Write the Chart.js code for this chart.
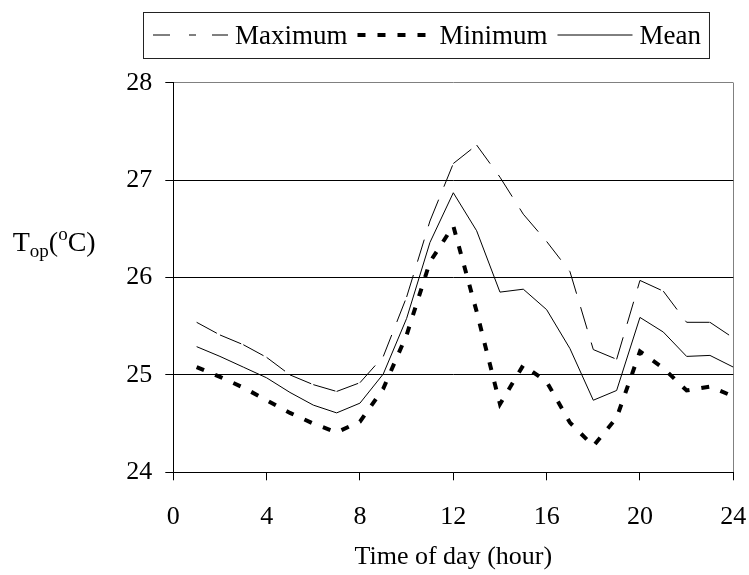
<!DOCTYPE html>
<html><head><meta charset="utf-8">
<script src="https://cdn.jsdelivr.net/npm/chart.js@4.4.1/dist/chart.umd.min.js"></script>
<style>html,body{margin:0;padding:0;background:#fff;}canvas{display:block;}</style>
</head><body>
<canvas id="c" width="749" height="575"></canvas>
<script>
const hours = [1,2,3,4,5,6,7,8,9,10,11,12,13,14,15,16,17,18,19,20,21,22,23,24];
const maxTemp = [25.54,25.41,25.31,25.18,25.00,24.90,24.83,24.92,25.19,25.80,26.58,27.17,27.36,27.03,26.65,26.37,26.06,25.26,25.16,25.97,25.86,25.54,25.54,25.38];
const minTemp = [25.08,24.98,24.87,24.74,24.61,24.50,24.41,24.52,24.86,25.41,26.16,26.53,25.65,24.70,25.10,24.93,24.51,24.27,24.56,25.24,25.07,24.84,24.88,24.78];
const meanTemp = [25.29,25.19,25.08,24.97,24.82,24.69,24.61,24.71,25.01,25.58,26.36,26.87,26.48,25.85,25.88,25.67,25.27,24.74,24.84,25.59,25.44,25.19,25.20,25.08];
const xTicks = [0,4,8,12,16,20,24];
const yTicks = [24,25,26,27,28];
const seriesLabels = ['Maximum','Minimum','Mean'];
const xTitle = 'Time of day (hour)';

const FONT = '"Liberation Serif", "Times New Roman", serif';

function pts(vals){ return hours.map((h,i)=>({x:h,y:vals[i]})); }

const legendBox = {
  id:'legendBox',
  afterDraw(chart){
    const ctx = chart.ctx;
    ctx.save();
    ctx.font = '27px ' + FONT;
    const y = 35, left = 143, padL = 10, sampleW = 75, gapS = 7, gapT = 10;
    let x = left + padL;
    const dss = chart.data.datasets;
    dss.forEach((ds,i)=>{
      ctx.beginPath();
      ctx.setLineDash(ds.legendDash || ds.borderDash || []);
      ctx.lineWidth = ds.borderWidth;
      ctx.strokeStyle = ds.borderColor;
      ctx.lineCap = 'butt';
      ctx.moveTo(x, y); ctx.lineTo(x + sampleW, y); ctx.stroke();
      x += sampleW + gapS;
      ctx.setLineDash([]);
      ctx.fillStyle = '#000';
      ctx.textBaseline = 'alphabetic';
      ctx.textAlign = 'left';
      ctx.fillText(ds.label, x, y + 9);
      x += ctx.measureText(ds.label).width + (i < dss.length - 1 ? gapT : 0);
    });
    const right = x + 8;
    ctx.lineWidth = 1; ctx.strokeStyle = '#222';
    ctx.strokeRect(left + 0.5, 12.5, right - left, 46);
    ctx.restore();
  }
};

const yTitle = {
  id:'yTitle',
  afterDraw(chart){
    const ctx = chart.ctx;
    ctx.save();
    ctx.fillStyle = '#000';
    ctx.textBaseline = 'alphabetic';
    ctx.textAlign = 'left';
    const big = '28px ' + FONT, small = '19px ' + FONT;
    let x = 12.7; const base = 251;
    const put = (t, f, dy) => { ctx.font = f; ctx.fillText(t, x, base + dy); x += ctx.measureText(t).width; };
    put('T', big, 0);
    put('op', small, 6);
    put('(', big, 0);
    put('o', small, -11);
    put('C)', big, 0);
    ctx.restore();
  }
};

new Chart(document.getElementById('c'), {
  type:'line',
  data:{
    datasets:[
      {label:seriesLabels[0], data:pts(maxTemp), borderColor:'#000', borderWidth:1, borderDash:[23,14],
       legendDash:[17,19,7,16,17], pointRadius:0, tension:0, fill:false,
       segment:{ borderDashOffset: c => (c.p0DataIndex % 2) * 0.001 }},
      {label:seriesLabels[1], data:pts(minTemp), borderColor:'#000', borderWidth:4, borderDash:[8,12],
       borderCapStyle:'butt', pointRadius:0, tension:0, fill:false},
      {label:seriesLabels[2], data:pts(meanTemp), borderColor:'#000', borderWidth:1, pointRadius:0, tension:0, fill:false}
    ]
  },
  options:{
    responsive:false,
    animation:false,
    devicePixelRatio:1,
    layout:{padding:{top:82.7,left:0,right:0,bottom:0}},
    plugins:{legend:{display:false}, tooltip:{enabled:false}},
    scales:{
      x:{
        type:'linear', min:0, max:24,
        afterBuildTicks: s => { s.ticks = xTicks.map(v=>({value:v})); },
        afterFit: s => { s.height = 102.7; s.paddingLeft = 0; s.paddingRight = 15.7; },
        ticks:{font:{family:FONT,size:26}, color:'#000', padding:21, autoSkip:false, maxRotation:0},
        grid:{
          color: c => (c.tick && c.tick.value === 24) ? '#808080' : 'rgba(0,0,0,0)',
          tickColor:'#000', tickLength:8, drawTicks:true, lineWidth:1
        },
        border:{color:'#000', width:1},
        title:{display:true, text:xTitle, font:{family:FONT,size:26}, color:'#000', padding:{top:0,bottom:2}}
      },
      y:{
        type:'linear', min:24, max:28,
        afterBuildTicks: s => { s.ticks = yTicks.map(v=>({value:v})); },
        afterFit: s => { s.width = 173.3; s.paddingTop = 0; s.paddingBottom = 0; },
        ticks:{font:{family:FONT,size:26}, color:'#000', padding:13},
        grid:{
          color: c => (c.tick && c.tick.value === 28) ? '#808080' : '#000',
          tickColor:'#000', tickLength:8, lineWidth:1
        },
        border:{color:'#000', width:1}
      }
    }
  },
  plugins:[legendBox, yTitle]
});
</script>
</body></html>
